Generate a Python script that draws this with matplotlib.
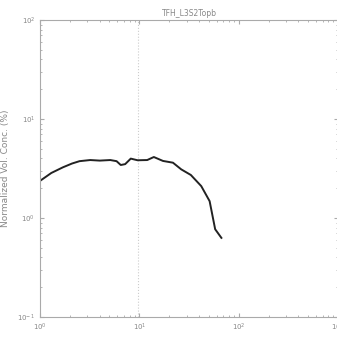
import numpy as np
import matplotlib.pyplot as plt

# size distribution
diameter = [1.0, 1.3, 1.7, 2.1, 2.5, 3.2, 4.0, 5.1, 5.9, 6.5, 7.2, 8.2,
            9.6, 12.0, 14.0, 17.3, 21.8, 26.4, 33.0, 42.0, 51.0, 58.0, 67.0]
conc = [2.37, 2.85, 3.25, 3.55, 3.75, 3.85, 3.8, 3.85, 3.75, 3.43, 3.5, 3.98,
        3.83, 3.85, 4.13, 3.77, 3.62, 3.1, 2.72, 2.1, 1.48, 0.77, 0.63]

title = "TFH_L3S2Topb"
grey = "#888888"

fig = plt.figure(figsize=(3.37, 3.41), dpi=100)
ax = fig.add_axes([40 / 337, 24 / 341, 298 / 337, 297 / 341])

ax.axvline(9.7, color="#cccccc", linestyle=":", linewidth=0.8)
ax.plot(diameter, conc, color="#222222", linewidth=1.4)

ax.set_xscale("log")
ax.set_yscale("log")
ax.set_xlim(1, 1000)
ax.set_ylim(0.1, 100)

for s in ax.spines.values():
    s.set_color("#aaaaaa")
    s.set_linewidth(0.8)
ax.tick_params(which="both", direction="in", colors="#aaaaaa",
               labelcolor=grey, labelsize=5, top=True, right=True)
ax.tick_params(which="major", length=3)
ax.tick_params(which="minor", length=1.5)

ax.set_title(title, fontsize=5.5, color=grey, pad=3)
ax.set_ylabel("Normalized Vol. Conc. (%)", fontsize=6.5, color=grey, labelpad=2)
ax.yaxis.set_label_coords(-0.1, 0.5)
ax.set_xlabel("Particle Diameter (µm)", fontsize=6, color=grey, labelpad=6)

fig.savefig("out.png", dpi=100)
